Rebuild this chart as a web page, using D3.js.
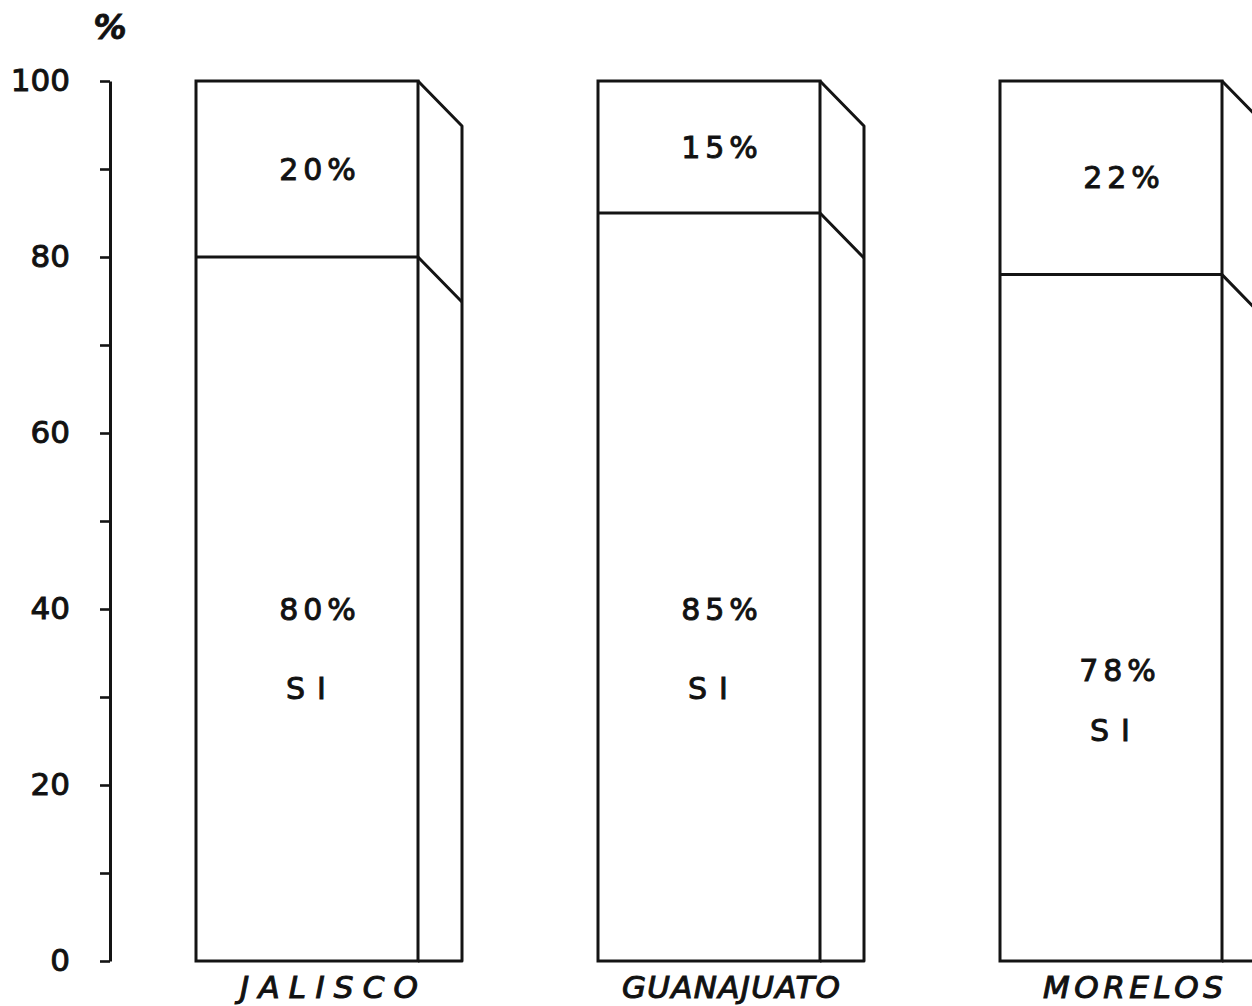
<!DOCTYPE html>
<html>
<head>
<meta charset="utf-8">
<script src="https://cdn.jsdelivr.net/npm/d3@7"></script>
<style>
  html, body { margin: 0; padding: 0; background: #fff; }
  svg { display: block; }
  text { font-family: "DejaVu Sans", sans-serif; fill: #111; }
</style>
</head>
<body>
<svg id="chart" width="1252" height="1006"></svg>
<script>
// Respuestas por estado (porcentaje)
const states = ["JALISCO", "GUANAJUATO", "MORELOS"];
const siPct = [80, 85, 78];
const noPct = [20, 15, 22];
const yTickValues = [0, 10, 20, 30, 40, 50, 60, 70, 80, 90, 100];
const yTickLabels = ["0", "", "20", "", "40", "", "60", "", "80", "", "100"];

const W = 1252, H = 1006;
const ink = "#141414";
const svg = d3.select("#chart");

const y = d3.scaleLinear().domain([0, 100]).range([961, 81]);
const x = d3.scaleBand()
  .domain(states)
  .range([196, 1222])
  .paddingInner(180 / 402)
  .paddingOuter(0);
const bw = x.bandwidth();
const depthX = 44, depthY = 45;   // oblique side face of each column

// eje vertical
const axis = d3.axisLeft(y)
  .tickValues(yTickValues)
  .tickSize(10)
  .tickSizeOuter(0)
  .tickPadding(30)
  .tickFormat((d, i) => yTickLabels[i]);

const gAxis = svg.append("g")
  .attr("transform", "translate(110,0)")
  .call(axis);
gAxis.select(".domain").attr("stroke", ink).attr("stroke-width", 3);
gAxis.selectAll(".tick line").attr("stroke", ink).attr("stroke-width", 2.6);
gAxis.selectAll(".tick text")
  .attr("font-family", "DejaVu Sans, sans-serif")
  .attr("font-size", 31)
  .attr("fill", ink)
  .attr("stroke", ink)
  .attr("stroke-width", 1);

svg.append("text")
  .attr("x", 110).attr("y", 27)
  .attr("text-anchor", "middle")
  .attr("dominant-baseline", "central")
  .attr("font-size", 33)
  .attr("font-weight", "bold")
  .attr("font-style", "italic")
  .attr("stroke", ink).attr("stroke-width", 0.8)
  .text("%");

// columnas
const pctLevel = [40, 40, 33];
const siLevel = [31, 31, 26.2];
const pctShift = [13, 13, 9];
const labelWidth = [178, 218, 180];

states.forEach((s, i) => {
  const g = svg.append("g");
  const x0 = x(s), x1 = x0 + bw;
  const yTop = y(noPct[i] + siPct[i]);
  const yBot = y(0);
  const ySplit = y(siPct[i]);

  const line = (pts) => g.append("path")
    .attr("d", d3.line()(pts))
    .attr("fill", "none")
    .attr("stroke", ink)
    .attr("stroke-width", 3)
    .attr("stroke-linejoin", "round");

  // cara frontal
  g.append("rect")
    .attr("x", x0).attr("y", yTop)
    .attr("width", bw).attr("height", yBot - yTop)
    .attr("fill", "#fff")
    .attr("stroke", ink).attr("stroke-width", 3);
  // cara lateral
  line([[x1, yTop], [x1 + depthX, yTop + depthY], [x1 + depthX, yBot], [x1, yBot]]);
  // división SI / NO
  line([[x0, ySplit], [x1, ySplit], [x1 + depthX, ySplit + depthY]]);

  const cx = x0 + bw / 2;
  g.append("text")
    .attr("x", cx + 13).attr("y", (yTop + ySplit) / 2)
    .attr("text-anchor", "middle").attr("dominant-baseline", "central")
    .attr("font-size", 30).attr("letter-spacing", 5)
    .attr("stroke", ink).attr("stroke-width", 1)
    .text(noPct[i] + "%");
  g.append("text")
    .attr("x", cx + pctShift[i]).attr("y", y(pctLevel[i]))
    .attr("text-anchor", "middle").attr("dominant-baseline", "central")
    .attr("font-size", 30).attr("letter-spacing", 5)
    .attr("stroke", ink).attr("stroke-width", 1)
    .text(siPct[i] + "%");
  g.append("text")
    .attr("x", cx + 5).attr("y", y(siLevel[i]))
    .attr("text-anchor", "middle").attr("dominant-baseline", "central")
    .attr("font-size", 30).attr("letter-spacing", 12)
    .attr("stroke", ink).attr("stroke-width", 1)
    .text("SI");

  // nombre del estado
  svg.append("text")
    .attr("x", x0 + (bw + depthX) / 2).attr("y", 998)
    .attr("text-anchor", "middle")
    .attr("font-size", 31).attr("font-style", "italic")
    .attr("textLength", labelWidth[i]).attr("lengthAdjust", "spacing")
    .attr("stroke", ink).attr("stroke-width", 1.1)
    .text(s);
});
</script>
</body>
</html>
